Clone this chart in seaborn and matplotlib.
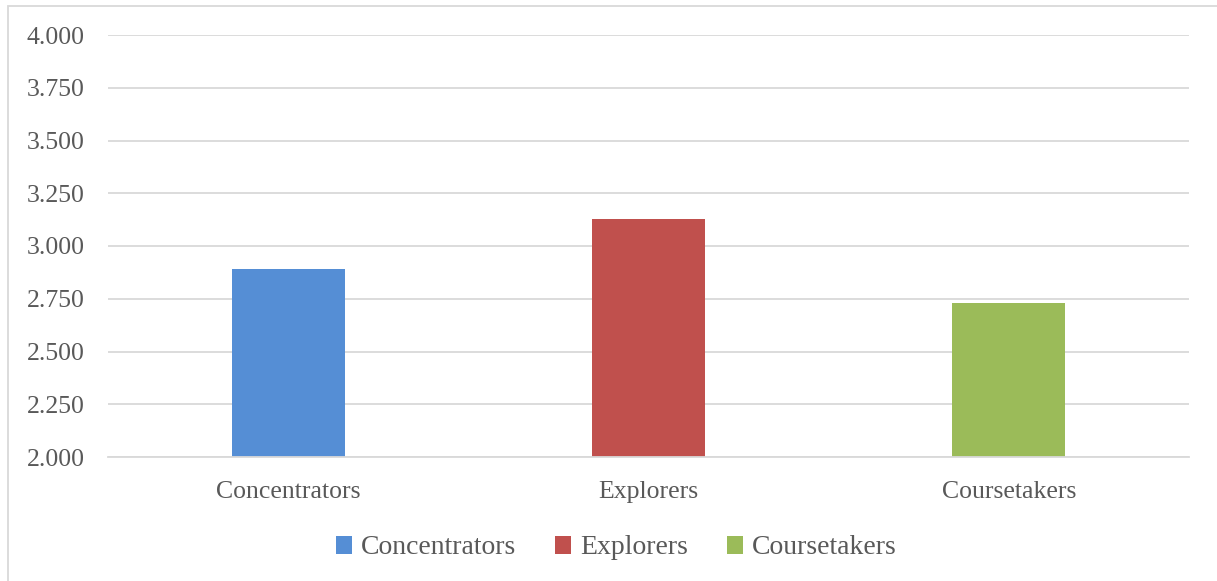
import matplotlib
matplotlib.use("Agg")
import matplotlib.pyplot as plt
import seaborn as sns
import pandas as pd
from matplotlib.patches import Patch, Rectangle

categories = ["Concentrators", "Explorers", "Coursetakers"]
values = [2.892, 3.130, 2.731]
colors = ["#558ED5", "#C0504D", "#9BBB59"]
y_ticks = [2.0, 2.25, 2.5, 2.75, 3.0, 3.25, 3.5, 3.75, 4.0]

df = pd.DataFrame({"group": categories, "score": values})

sns.set_theme(style="white")
plt.rcParams["font.family"] = ["Liberation Serif", "DejaVu Serif"]

W, H = 1217, 581
fig = plt.figure(figsize=(W / 100, H / 100), dpi=100)
ax = fig.add_axes([108 / W, 1 - 457 / H, (1189 - 108) / W, (457 - 35) / H])

sns.barplot(data=df, x="group", y="score", hue="group", palette=colors,
            order=categories, hue_order=categories, width=0.314,
            dodge=False, legend=False, ax=ax, saturation=1, linewidth=0)

ax.set_ylim(2.0, 4.0)
ax.set_xlim(-0.5, 2.5)
ax.set_yticks(y_ticks)
ax.set_yticklabels([f"{t:.3f}" for t in y_ticks])
ax.set_xlabel("")
ax.set_ylabel("")
ax.yaxis.grid(True, color="#d9d9d9", linewidth=1.3)
ax.set_axisbelow(True)
for side in ["left", "top", "right"]:
    ax.spines[side].set_visible(False)
ax.spines["bottom"].set_color("#d9d9d9")
ax.spines["bottom"].set_linewidth(1.3)
ax.tick_params(axis="both", length=0, labelcolor="#595959", labelsize=18.5)
ax.tick_params(axis="y", pad=17)
ax.tick_params(axis="x", pad=17)

handles = [Patch(facecolor=c, edgecolor="none", label=n) for c, n in zip(colors, categories)]
leg = fig.legend(handles=handles, loc="center", bbox_to_anchor=(616 / W, 1 - 548 / H),
                 ncol=3, frameon=False, handlelength=0.6, handleheight=0.6,
                 handletextpad=0.3, columnspacing=1.4, prop={"size": 20})
for t in leg.get_texts():
    t.set_color("#595959")

# thin frame around the chart area (right and bottom edges run off the canvas)
fig.patches.append(Rectangle((7.5 / W, -0.05), 1.1, 1 - 6 / H + 0.05, transform=fig.transFigure,
                             fill=False, edgecolor="#d9d9d9", linewidth=1.3))

fig.savefig("out.png", dpi=100, facecolor="white")
